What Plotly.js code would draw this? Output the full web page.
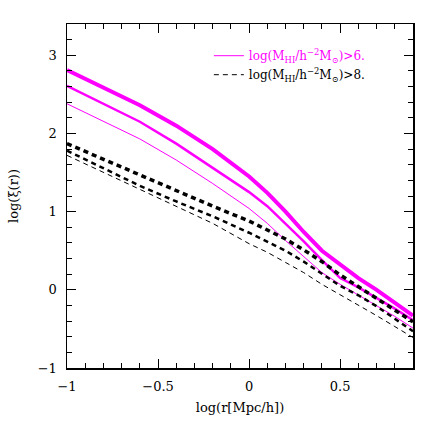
<!DOCTYPE html>
<html>
<head>
<meta charset="utf-8">
<script src="https://cdn.plot.ly/plotly-3.0.1.min.js"></script>
<style>
  html, body { margin: 0; padding: 0; background: #fff; }
  #chart { width: 436px; height: 436px; }
</style>
</head>
<body>
<div id="chart"></div>
<script>
// log(r) sample points
const logR = [-1, -0.8, -0.6, -0.4, -0.2, 0, 0.1, 0.2, 0.3, 0.4, 0.5, 0.6, 0.7, 0.8, 0.9];

// log(xi) for M_HI > 10^6 (magenta, thick -> thin)
const hi6Thick  = [2.81, 2.58, 2.36, 2.10, 1.80, 1.45, 1.24, 1.00, 0.74, 0.50, 0.32, 0.15, 0.00, -0.16, -0.33];
const hi6Medium = [2.61, 2.38, 2.15, 1.87, 1.56, 1.25, 1.07, 0.85, 0.62, 0.38, 0.15, 0.03, -0.10, -0.24, -0.39];
const hi6Thin   = [2.38, 2.16, 1.93, 1.66, 1.36, 1.04, 0.85, 0.63, 0.42, 0.22, 0.07, -0.065, -0.20, -0.34, -0.49];

// log(xi) for M_HI > 10^8 (black dashed, thick -> thin)
const hi8Thick  = [1.87, 1.67, 1.46, 1.26, 1.07, 0.88, 0.77, 0.65, 0.51, 0.36, 0.19, 0.04, -0.10, -0.25, -0.41];
const hi8Medium = [1.78, 1.55, 1.33, 1.13, 0.94, 0.73, 0.62, 0.50, 0.36, 0.21, 0.05, -0.07, -0.21, -0.37, -0.53];
const hi8Thin   = [1.72, 1.50, 1.28, 1.07, 0.85, 0.59, 0.48, 0.35, 0.22, 0.07, -0.06, -0.19, -0.33, -0.47, -0.61];

const label6 = '<span style="color:#ff00ff">log(M<sub>HI</sub>/h<sup>−2</sup>M<sub>⊙</sub>)&gt;6.</span>';
const label8 = 'log(M<sub>HI</sub>/h<sup>−2</sup>M<sub>⊙</sub>)&gt;8.';

const MAGENTA = '#ff00ff';
const font = 'DejaVu Serif, serif';

function line(y, color, width, dash, name, show) {
    return {
        x: logR, y: y, type: 'scatter', mode: 'lines',
        line: { color: color, width: width, dash: dash },
        name: name, showlegend: show, hoverinfo: 'skip'
    };
}

const traces = [
    line(hi6Thin,   MAGENTA, 1,   'solid', label6, true),
    line(hi8Thin,   'black', 1,   '5px,4px', label8, true),
    line(hi6Thick,  MAGENTA, 4,   'solid', '', false),
    line(hi6Medium, MAGENTA, 2.5, 'solid', '', false),
    line(hi8Thick,  'black', 3.5, '5px,4px', '', false),
    line(hi8Medium, 'black', 2.5, '5px,4px', '', false)
];

const axisCommon = {
    showgrid: false, zeroline: false,
    showline: true, linecolor: 'black', linewidth: 1.5,
    mirror: 'allticks', ticks: 'inside', tickcolor: 'black',
    tickwidth: 1, ticklen: 9, ticklabelstandoff: 6,
    tickfont: { family: font, size: 13, color: 'black' }
};

const layout = {
    width: 436, height: 436,
    margin: { l: 67, r: 23, t: 24, b: 68 },
    paper_bgcolor: 'white', plot_bgcolor: 'white',
    font: { family: font, color: 'black' },
    xaxis: Object.assign({}, axisCommon, {
        range: [-1, 0.9], tickvals: [-1, -0.5, 0, 0.5],
        ticktext: ['−1', '−0.5', '0', '0.5'],
        minor: { dtick: 0.1, tick0: 0, ticks: 'inside', ticklen: 5, tickcolor: 'black' },
        title: { text: 'log(r[Mpc/h])', font: { family: font, size: 13 }, standoff: 10 }
    }),
    yaxis: Object.assign({}, axisCommon, {
        range: [-1, 3.4], tickvals: [-1, 0, 1, 2, 3],
        ticktext: ['−1', '0', '1', '2', '3'],
        minor: { dtick: 0.2, tick0: 0, ticks: 'inside', ticklen: 5, tickcolor: 'black' },
        title: { text: 'log(ξ(r))', font: { family: font, size: 13 }, standoff: 16 }
    }),
    showlegend: true,
    legend: {
        x: 0.41, y: 0.95, xanchor: 'left', yanchor: 'top',
        bgcolor: 'rgba(0,0,0,0)', borderwidth: 0,
        font: { family: font, size: 12, color: 'black' },
        tracegroupgap: 0
    }
};

Plotly.newPlot('chart', traces, layout, { displayModeBar: false, staticPlot: true });
</script>
</body>
</html>
